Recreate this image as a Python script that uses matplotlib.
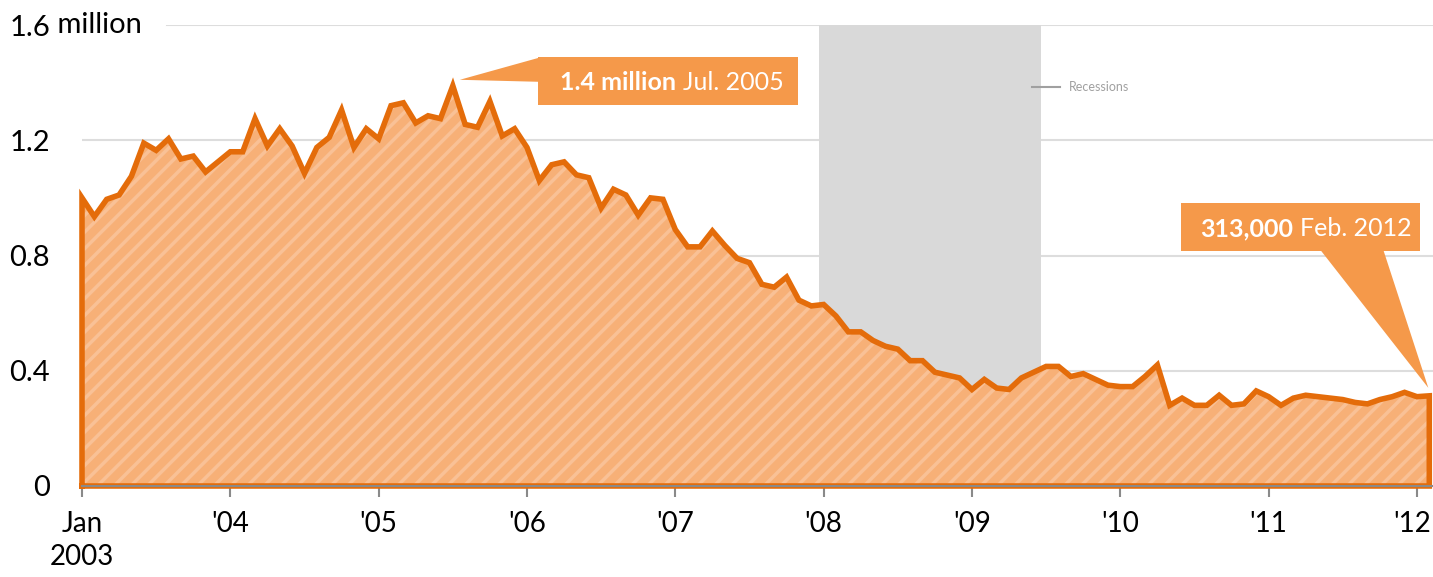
import numpy as np
import matplotlib
matplotlib.use("Agg")
import matplotlib.pyplot as plt
from matplotlib.patches import Polygon
from matplotlib import transforms

# Monthly values, Jan 2003 .. Feb 2012 (millions)
start_year = 2003
values = [
    1.00, 0.935, 0.995, 1.01, 1.075, 1.19, 1.165, 1.205, 1.135, 1.145, 1.09, 1.125,   # 2003
    1.16, 1.16, 1.275, 1.18, 1.24, 1.18, 1.085, 1.175, 1.21, 1.305, 1.175, 1.24,      # 2004
    1.205, 1.32, 1.33, 1.26, 1.285, 1.275, 1.389, 1.255, 1.245, 1.335, 1.215, 1.24,   # 2005
    1.175, 1.06, 1.115, 1.125, 1.08, 1.07, 0.965, 1.03, 1.01, 0.94, 1.00, 0.995,      # 2006
    0.89, 0.83, 0.83, 0.885, 0.835, 0.79, 0.775, 0.70, 0.69, 0.725, 0.645, 0.625,     # 2007
    0.63, 0.59, 0.535, 0.535, 0.505, 0.485, 0.475, 0.435, 0.435, 0.395, 0.385, 0.375, # 2008
    0.335, 0.37, 0.34, 0.335, 0.375, 0.395, 0.415, 0.415, 0.38, 0.39, 0.37, 0.35,     # 2009
    0.345, 0.345, 0.38, 0.42, 0.28, 0.305, 0.28, 0.28, 0.315, 0.28, 0.285, 0.33,      # 2010
    0.31, 0.28, 0.305, 0.315, 0.31, 0.305, 0.30, 0.29, 0.285, 0.30, 0.31, 0.325,      # 2011
    0.31, 0.313,                                                                      # 2012
]
x_labels = ["Jan\n2003", "'04", "'05", "'06", "'07", "'08", "'09", "'10", "'11", "'12"]
y_ticks = [0, 0.4, 0.8, 1.2, 1.6]
y_labels = ["0", "0.4", "0.8", "1.2", "1.6"]
# recession Dec 2007 - Jun 2009, as month indices
recession = (59, 77)

peak_idx, peak_label = 30, ("1.4 million", "Jul. 2005")
last_idx, last_label = 109, ("313,000", "Feb. 2012")

LINE = "#e46c0a"
FILL = "#f7b077"
STRIPE = "#f9c196"
BOX = "#f5994a"
GRAY_BAND = "#d9d9d9"

plt.rcParams["font.family"] = ["Lato", "DejaVu Sans"]
plt.rcParams["hatch.linewidth"] = 2.5

x = np.arange(len(values))
y = np.array(values)

fig = plt.figure(figsize=(14.33, 5.77), dpi=100)
ax = fig.add_axes([82 / 1433, 91 / 577, (1433 - 82) / 1433, (486 - 25) / 577])
ax.set_xlim(0, len(values) - 1 + 0.3)
ax.set_ylim(0, 1.6)

# recession band
ax.axvspan(recession[0] + 0.65, recession[1] + 0.6, color=GRAY_BAND, lw=0, zorder=1)

# gridlines
for t in y_ticks[1:]:
    x0 = 0.063 if t == 1.6 else 0
    ax.axhline(t, xmin=x0, color="#dddddd", lw=1.5, zorder=0)

# hatched area
ax.fill_between(x, 0, y, facecolor=FILL, edgecolor=STRIPE, hatch="//", lw=0, zorder=2)
outline_x = np.concatenate([[x[0]], x, [x[-1], x[0], x[0]]])
outline_y = np.concatenate([[0], y, [0, 0, 0]])
ax.plot(outline_x, outline_y, color=LINE, lw=4, solid_joinstyle="miter",
        clip_on=False, zorder=3)

for s in ["top", "right", "left"]:
    ax.spines[s].set_visible(False)
ax.spines["bottom"].set_color("#8a8a8a")
ax.spines["bottom"].set_linewidth(1.5)
ax.spines["bottom"].set_zorder(4)

ax.set_xticks(np.arange(0, len(values), 12))
ax.set_xticklabels(x_labels, fontsize=20, linespacing=1.35)
ax.tick_params(axis="x", length=8, width=1.5, color="#8a8a8a", pad=10)
# keep the last year label inside the figure
last = ax.get_xticklabels()[-1]
last.set_transform(last.get_transform() + transforms.Affine2D().translate(-5, 0))
ax.set_yticks(y_ticks)
ax.set_yticklabels(y_labels, fontsize=21)
ax.tick_params(axis="y", length=0, pad=23)
ax.annotate(" million", xy=(0, 1.6), xycoords=("axes fraction", "data"),
            xytext=(-23, 0), textcoords="offset points", fontsize=21,
            ha="left", va="center", annotation_clip=False)

# recession legend
ax.plot([1032, 1060], [87, 87], color="#a0a0a0", lw=1.5,
        transform=transforms.Affine2D().scale(1, -1).translate(0, 577), clip_on=False)
fig.text(1069 / 1433, 1 - 87 / 577, "Recessions", fontsize=9, color="#a0a0a0",
         ha="left", va="center")

renderer = fig.canvas.get_renderer()


def callout(idx, labels, box, tri, text_x):
    # box / tri in pixel offsets from the data point
    px, py = ax.transData.transform((idx, values[idx]))
    tr = transforms.Affine2D().translate(px, py)
    x0, x1, y0, y1 = box
    fig.patches.append(Polygon([(x0, y0), (x1, y0), (x1, y1), (x0, y1)], closed=True,
                               facecolor=BOX, lw=0, transform=tr, figure=fig, zorder=5))
    fig.patches.append(Polygon(tri, closed=True, facecolor=BOX, lw=0,
                               transform=tr, figure=fig, zorder=5))
    ty = py + (y0 + y1) / 2
    t1 = fig.text((px + text_x) / fig.bbox.width, ty / fig.bbox.height, labels[0],
                  color="white", fontsize=18, fontweight="bold", ha="left",
                  va="center_baseline", zorder=6)
    ext = t1.get_window_extent(renderer)
    fig.text((ext.x1 + 7) / fig.bbox.width, ty / fig.bbox.height, labels[1],
             color="white", fontsize=18, ha="left", va="center_baseline", zorder=6)


callout(peak_idx, peak_label, (85, 345, -19, 29),
        [(7, 6), (86, 28), (86, 4)], 107)
callout(last_idx, last_label, (-248, -9, 145, 193),
        [(-109, 146), (-46, 146), (-1, 8)], -229)

fig.savefig("out.png", dpi=100)
